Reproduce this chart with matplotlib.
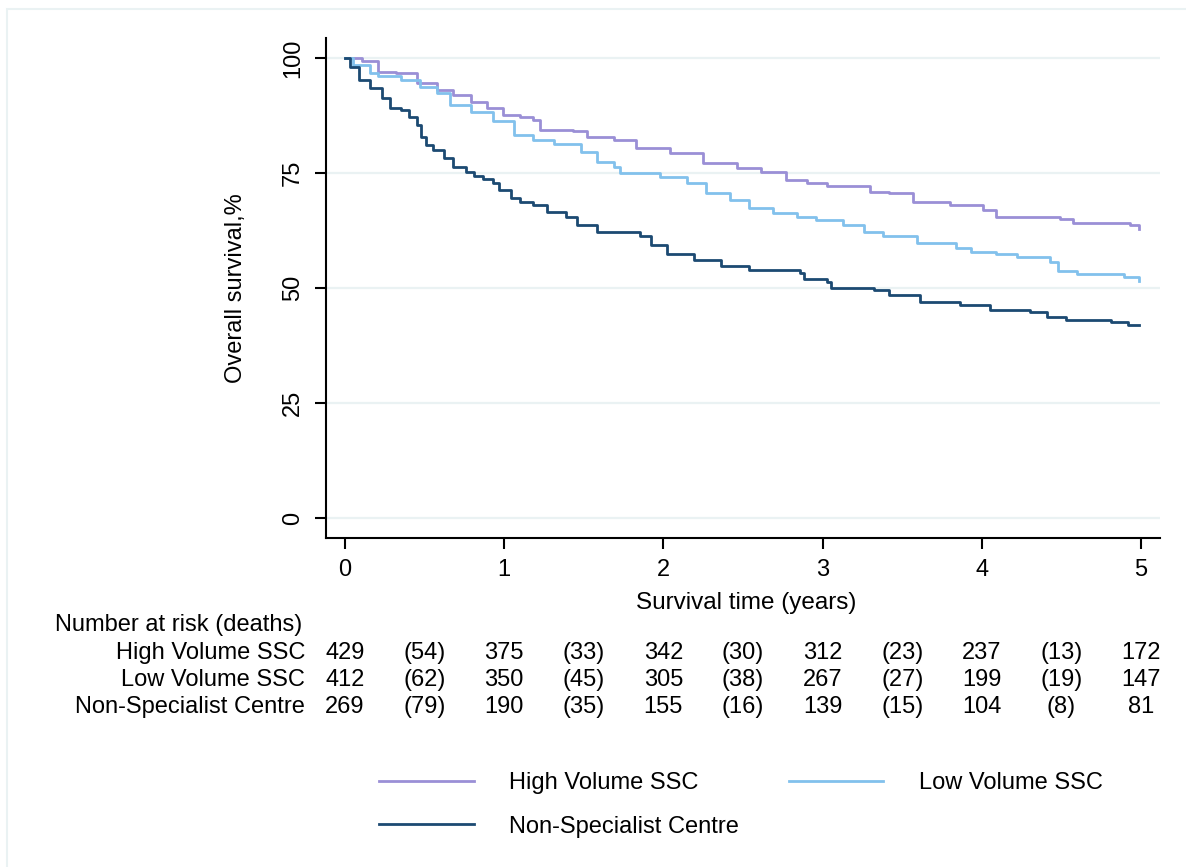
import matplotlib.pyplot as plt
from matplotlib.patches import Rectangle
import matplotlib.transforms as mtransforms

plt.rcParams['font.family'] = ['Liberation Sans', 'DejaVu Sans']

# Kaplan-Meier curves (time in years, survival %)
high_t = [0, 0.11, 0.21, 0.32, 0.45, 0.58, 0.68, 0.79, 0.89, 0.99, 1.10, 1.18, 1.225, 1.43, 1.52,
          1.69, 1.83, 2.04, 2.25, 2.46, 2.61, 2.77, 2.90, 3.03, 3.30, 3.42, 3.57, 3.80, 4.01,
          4.09, 4.49, 4.57, 4.93, 4.99]
high_s = [100, 99.4, 97.0, 96.7, 94.5, 93.0, 92.0, 90.5, 89.1, 87.6, 87.1, 86.5, 84.3, 84.2, 82.9,
          82.2, 80.4, 79.3, 77.2, 76.0, 75.3, 73.5, 72.8, 72.2, 70.9, 70.7, 68.8, 68.0, 67.0,
          65.5, 65.1, 64.2, 63.8, 62.8]

low_t = [0, 0.05, 0.16, 0.21, 0.35, 0.47, 0.58, 0.66, 0.79, 0.93, 1.06, 1.18, 1.31, 1.48, 1.58,
         1.69, 1.73, 1.98, 2.15, 2.27, 2.42, 2.54, 2.69, 2.84, 2.96, 3.13, 3.26, 3.38, 3.59,
         3.84, 3.93, 4.09, 4.22, 4.43, 4.48, 4.60, 4.89, 4.99]
low_s = [100, 98.5, 96.7, 96.0, 95.2, 93.8, 92.3, 89.8, 88.3, 86.2, 83.3, 82.2, 81.4, 79.6, 77.5,
         76.4, 74.9, 74.2, 72.8, 70.6, 69.1, 67.3, 66.2, 65.5, 64.8, 63.7, 62.2, 61.2, 59.7,
         58.6, 57.8, 57.5, 56.8, 55.7, 53.8, 53.0, 52.5, 51.6]

non_t = [0, 0.03, 0.09, 0.16, 0.23, 0.28, 0.35, 0.40, 0.45, 0.48, 0.51, 0.55, 0.62, 0.68, 0.76,
         0.81, 0.87, 0.93, 0.97, 1.04, 1.10, 1.18, 1.27, 1.39, 1.46, 1.58, 1.85, 1.92, 2.02,
         2.19, 2.36, 2.54, 2.86, 2.88, 3.03, 3.05, 3.32, 3.42, 3.61, 3.86, 4.05, 4.30, 4.41,
         4.53, 4.81, 4.92, 4.99]
non_s = [100, 98.1, 95.2, 93.4, 91.2, 89.1, 88.7, 87.2, 85.4, 82.9, 81.1, 80.0, 78.2, 76.4, 75.3,
         74.3, 73.8, 72.8, 71.3, 69.5, 68.8, 68.0, 66.6, 65.5, 63.7, 62.2, 61.2, 59.3, 57.5,
         56.1, 54.8, 53.9, 53.3, 51.9, 51.2, 49.9, 49.6, 48.5, 47.0, 46.3, 45.2, 44.8, 43.8,
         43.0, 42.7, 42.0, 42.0]

groups = ['High Volume SSC', 'Low Volume SSC', 'Non-Specialist Centre']
colors = ['#9a8fd6', '#82c1ec', '#1c4a72']

# number at risk (deaths) table
risk_times = [0, 1, 2, 3, 4, 5]
at_risk = [[429, 375, 342, 312, 237, 172],
           [412, 350, 305, 267, 199, 147],
           [269, 190, 155, 139, 104, 81]]
deaths = [[54, 33, 30, 23, 13],
          [62, 45, 38, 27, 19],
          [79, 35, 16, 15, 8]]

W, H = 1186, 867
fig = plt.figure(figsize=(W / 100, H / 100), dpi=100)
ax = fig.add_axes([326 / W, 1 - 538 / H, (1160 - 326) / W, (538 - 38) / H])

fs = 17
for t, s, c, g in zip([high_t, low_t, non_t], [high_s, low_s, non_s], colors, groups):
    ax.step(t, s, where='post', color=c, lw=2.0, label=g, zorder=3)

ax.set_xlim(-0.119, 5.119)
ax.set_ylim(-4.35, 104.35)
ax.set_xticks([0, 1, 2, 3, 4, 5])
ax.set_yticks([0, 25, 50, 75, 100])
ax.grid(axis='y', color='#eaf2f3', lw=1.6, zorder=0)
ax.set_axisbelow(True)
for sp in ['top', 'right']:
    ax.spines[sp].set_visible(False)
for sp in ['left', 'bottom']:
    ax.spines[sp].set_linewidth(1.5)
ax.tick_params(direction='out', length=8, width=1.5, labelsize=fs, pad=7)
ax.tick_params(axis='y', labelrotation=90, pad=8)
for lab in ax.get_yticklabels():
    lab.set_va('center')

ax.set_ylabel('Overall survival,%', fontsize=fs)
ax.yaxis.set_label_coords((247 - 326) / (1160 - 326), 0.5)
fig.text(746 / W, 1 - 603 / H, 'Survival time (years)', fontsize=17.5, ha='center', va='center')

# risk table: x in data coords, y in figure coords
trans = mtransforms.blended_transform_factory(ax.transData, fig.transFigure)
fig.text(55 / W, 1 - 625 / H, 'Number at risk (deaths)', fontsize=fs, ha='left', va='center')
row_y = [653, 680, 707]
for i, g in enumerate(groups):
    y = 1 - row_y[i] / H
    fig.text(305 / W, y, g, fontsize=fs, ha='right', va='center')
    for j, t in enumerate(risk_times):
        ax.text(t, y, str(at_risk[i][j]), transform=trans, fontsize=fs, ha='center', va='center')
    for j, d in enumerate(deaths[i]):
        ax.text(risk_times[j] + 0.5, y, f'({d})', transform=trans, fontsize=fs,
                ha='center', va='center')

# legend filled row by row: High, Low / Non-Specialist
handles, labels = ax.get_legend_handles_labels()
order = [0, 2, 1]
fig.legend([handles[k] for k in order], [labels[k] for k in order], loc='center',
           bbox_to_anchor=(741 / W, 1 - 805 / H), ncol=2, frameon=False, fontsize=fs,
           handlelength=4.0, handletextpad=1.5, columnspacing=2.1, labelspacing=0.9)

fig.patches.append(Rectangle((7 / W, -0.02), 1.05, 1 - 9 / H + 0.02, transform=fig.transFigure,
                             fill=False, edgecolor='#eaf2f3', lw=1.5))

plt.savefig('out.png', dpi=100)
